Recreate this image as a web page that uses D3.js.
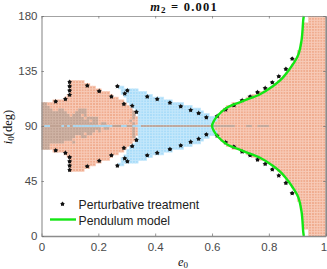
<!DOCTYPE html>
<html>
<head>
<meta charset="utf-8">
<script src="https://cdnjs.cloudflare.com/ajax/libs/d3/7.8.5/d3.min.js"></script>
<style>
  html, body { margin: 0; padding: 0; background: #fff; }
  svg { display: block; }
  .tick text { font-family: "Liberation Sans", sans-serif; font-size: 11.5px; fill: #4a4a4a; }
  .legend { font-family: "Liberation Sans", sans-serif; font-size: 12.2px; fill: #222; }
  .math { font-family: "Liberation Serif", serif; fill: #111; }
</style>
</head>
<body>
<svg width="327" height="269"></svg>
<script>
    // stable region edges, one value per 0.01 of e0
    const orangeLeftTop = [108,108,109,109,110,110,111,111,113,114,127,127,127,126,125,124,123,122,121,120,119,118,117,116,115,113,112,111,110,108,106,104,102,97];
    const blueStart = 27;
    const blueTop = [121,121,120,120,120,119,119,118,117,116,115,114,113.5,113,112.5,112,111,110.5,110,109,108.5,108,107,106,105.5,105,104,103,102.5,101,100,99,97.5,96,94];
    const blueLow = [120,116,113,110,107,104,100];
    const orangeRightStart = 61;
    const orangeRightTop = [93,97,101,103,105,106,107,108,109,110,111,112,113,114,115,116,117,118,119,120,122,124,126,128,130,133,136,139,143,150,157,173,173,180,180,180,180,180,180];

    // overlap cells, first string is the row next to 90 deg
    const grayUpper = [
        "####################.##.........#",
        "#################.##...........#",
        "###############.####............#",
        "##########.###.#................#",
        "#########...####................#",
        "####..##.....###",
        "###",
        "##"
    ];
    const grayLower = [
        "#####################.##........#",
        "###################.#...........#",
        "###############.##..............#",
        "############..##................#",
        "###########",
        "########...#",
        "###",
        "###"
    ];
    // the strip at 90 deg itself
    const centreRow = "gbbggggbgb" + "gbbbbbbbbb" + "bbbbbgggbb" + "ggbbbggggg" + "gggggggggg" + "gggggggggg" + "gaaaaaaa.." + "..aa..aaaa";

    // upper branch, the lower one is its mirror
    const dotE = [0.05,0.084,0.099,0.099,0.099,0.099,0.161,0.203,0.246,0.29,0.293,0.267,0.302,0.319,0.334,0.372,0.407,0.452,0.49,0.525,0.553,0.58,0.618,0.648,0.677,0.706,0.734,0.76,0.787,0.812,0.835,0.86,0.882];
    const dotI = [110,112,115.5,119,122.5,126,123,118.5,114,108,116.5,122.5,119,106.5,101.5,114,112,109,106,103,100.5,97,98,103.4,107,111,114,117.6,121,125.6,130.6,136.6,145];

    const pendE = [0.6,0.607,0.622,0.652,0.71,0.769,0.815,0.845,0.868,0.886,0.903,0.915,0.921,0.923];
    const pendI = [90,94.3,99,105,110.5,116,122.7,128.5,135,141,148,160,176.7,180];

    const xTicks = [0,0.2,0.4,0.6,0.8,1];
    const yTicks = [0,45,90,135,180];

    const colors = { o: "#f0ad90", b: "#a9dcf9", g: "#c0a293", a: "#bda99e" };
    const gaps = { o: "#f8cdbb", b: "#c6e8fb", g: "#d0b4a5", a: "#f8cdbb" };

    const svg = d3.select('svg');
    const plotL = 41.5, plotR = 325.7, plotT = 16, plotB = 236;

    const x = d3.scaleLinear().domain([0, 1]).range([plotL, plotR]);
    const y = d3.scaleLinear().domain([0, 180]).range([plotB, plotT]);
    const stepE = 0.01, stepI = 2.25;

    // build cell list
    const cells = [];
    const addCell = (col, r, c) => cells.push({ e: col * stepE, i: 90 + r * stepI, c });

    orangeLeftTop.forEach((t, col) => {
        addCell(col, 0, 'g');
        for (let r = 1; 90 + r * stepI <= t + 1; r++) {
            addCell(col, r, grayUpper[r - 1] && grayUpper[r - 1][col] === '#' ? 'g' : 'o');
            addCell(col, -r, grayLower[r - 1] && grayLower[r - 1][col] === '#' ? 'g' : 'o');
        }
    });
    blueTop.forEach((t, k) => {
        const col = blueStart + k;
        const low = k < blueLow.length ? blueLow[k] : 90;
        if (col >= orangeLeftTop.length) addCell(col, 0, 'b');
        for (let r = 1; 90 + r * stepI <= t + 1; r++) {
            if (90 + r * stepI < low) continue;
            addCell(col, r, 'b');
            addCell(col, -r, 'b');
        }
    });
    orangeRightTop.forEach((t, k) => {
        const col = orangeRightStart + k;
        addCell(col, 0, 'o');
        for (let r = 1; 90 + r * stepI <= t + 1; r++) {
            addCell(col, r, 'o');
            addCell(col, -r, 'o');
        }
    });

    svg.append('defs').append('clipPath').attr('id', 'plot')
        .append('rect').attr('x', plotL).attr('y', plotT).attr('width', plotR - plotL).attr('height', plotB - plotT);

    const cellW = x(stepE) - x(0);
    const cellH = y(0) - y(stepI);

    const field = svg.append('g').attr('clip-path', 'url(#plot)');
    field.selectAll('rect').data(cells).enter().append('rect')
        .attr('x', d => x(d.e))
        .attr('y', d => y(d.i) - cellH / 2)
        .attr('width', cellW)
        .attr('height', cellH)
        .attr('fill', d => colors[d.c])
        .attr('stroke', d => gaps[d.c])
        .attr('stroke-width', 0.7);

    // thin strip along 90 deg
    const strip = centreRow.split('').map((c, col) => ({ c, col })).filter(d => d.c !== '.');
    field.selectAll(null).data(strip).enter().append('rect')
        .attr('x', d => x(d.col * stepE))
        .attr('y', y(90) - 0.9)
        .attr('width', cellW)
        .attr('height', 1.8)
        .attr('fill', d => colors[d.c]);

    // stars: small body with spikes
    const star = d3.symbol().type(d3.symbolStar).size(9);
    const drawStar = (g, px, py) => {
        g.append('circle').attr('cx', px).attr('cy', py).attr('r', 1.7).attr('fill', '#111');
        g.append('path').attr('d', star).attr('fill', '#111').attr('transform', `translate(${px},${py})`);
    };
    const dots = svg.append('g');
    dotE.forEach((e, k) => {
        drawStar(dots, x(e), y(dotI[k]));
        drawStar(dots, x(e), y(180 - dotI[k]));
    });

    // pendulum separatrix
    const pendLine = d3.line()
        .x(d => x(d[0]))
        .y(d => y(d[1]))
        .curve(d3.curveCatmullRom.alpha(0.5));
    const upper = pendE.map((e, k) => [e, pendI[k]]);
    const whole = upper.slice().reverse().map(d => [d[0], 180 - d[1]]).concat(upper.slice(1));
    svg.append('path').attr('d', pendLine(whole))
        .attr('fill', 'none').attr('stroke', '#14e614').attr('stroke-width', 2.4);

    // axes
    const xAxis = d3.axisBottom(x).tickValues(xTicks).tickFormat(d3.format('')).tickSizeInner(-2.5).tickSizeOuter(0).tickPadding(7);
    const yAxis = d3.axisLeft(y).tickValues(yTicks).tickSizeInner(-2.5).tickSizeOuter(0).tickPadding(4);
    const xTop = d3.axisTop(x).tickValues(xTicks).tickFormat('').tickSizeInner(-2.5).tickSizeOuter(0);
    const yRight = d3.axisRight(y).tickValues(yTicks).tickFormat('').tickSizeInner(-2.5).tickSizeOuter(0);

    const styleAxis = (g, w) => {
        g.select('.domain').attr('stroke', '#8c8c8c').attr('stroke-width', w);
        g.selectAll('.tick line').attr('stroke', '#6e6e6e').attr('stroke-width', 0.7);
    };
    svg.append('g').attr('transform', `translate(0,${plotT})`).call(xTop).call(styleAxis, 0.8);
    svg.append('g').attr('transform', `translate(${plotR},0)`).call(yRight).call(styleAxis, 1.6);
    const gx = svg.append('g').attr('transform', `translate(0,${plotB})`).call(xAxis).call(styleAxis, 1.6);
    svg.append('g').attr('transform', `translate(${plotL},0)`).call(yAxis).call(styleAxis, 1.1);
    // last label would run off the window
    gx.selectAll('.tick text').filter(d => d === 1).attr('text-anchor', 'end').attr('dx', 1);

    // title and labels
    const title = svg.append('text').attr('class', 'math')
        .attr('x', 184).attr('y', 11.3).attr('text-anchor', 'middle')
        .attr('font-size', 12.5).attr('font-weight', 'bold').attr('letter-spacing', 1.2);
    title.append('tspan').attr('font-style', 'italic').text('m');
    title.append('tspan').attr('font-size', 9).attr('dy', 1.5).text('2');
    title.append('tspan').attr('dy', -1.5).text(' = 0.001');

    const xLabel = svg.append('text').attr('class', 'math')
        .attr('x', 183).attr('y', 266).attr('text-anchor', 'middle')
        .attr('font-size', 12.5);
    xLabel.append('tspan').attr('font-style', 'italic').text('e');
    xLabel.append('tspan').attr('font-size', 9).attr('dy', 2).text('0');

    const yLabel = svg.append('text').attr('class', 'math')
        .attr('transform', 'translate(12,127) rotate(-90)').attr('text-anchor', 'middle')
        .attr('font-size', 12.5);
    yLabel.append('tspan').attr('font-style', 'italic').text('i');
    yLabel.append('tspan').attr('font-size', 9).attr('dy', 2).text('0');
    yLabel.append('tspan').attr('dy', -2).text('(deg)');

    // legend
    drawStar(svg.append('g'), 62.5, 204);
    svg.append('line').attr('x1', 50).attr('x2', 76).attr('y1', 219.5).attr('y2', 219.5)
        .attr('stroke', '#14e614').attr('stroke-width', 2.4);
    svg.append('text').attr('class', 'legend').attr('x', 78.5).attr('y', 209).text('Perturbative treatment');
    svg.append('text').attr('class', 'legend').attr('x', 78.5).attr('y', 225).text('Pendulum model');
</script>
</body>
</html>
